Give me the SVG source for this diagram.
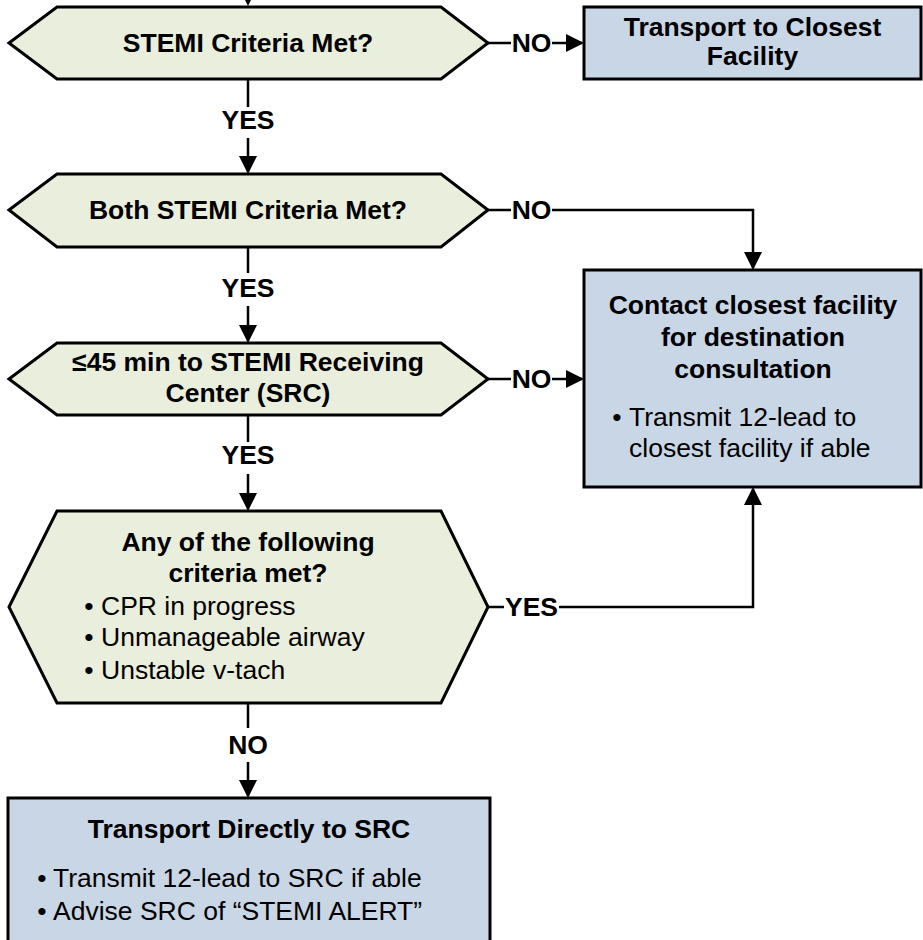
<svg xmlns="http://www.w3.org/2000/svg" width="923" height="940" viewBox="0 0 923 940">
<style>
.hex{fill:#EAEEDC;stroke:#000;stroke-width:3;stroke-linejoin:miter}
.box{fill:#C9D6E5;stroke:#000;stroke-width:3}
.b{font-family:"Liberation Sans",Arial,sans-serif;font-weight:bold;font-size:26.5px;fill:#000}
.r{font-family:"Liberation Sans",Arial,sans-serif;font-size:26.5px;fill:#000}
.c{text-anchor:middle}
.ln{fill:none;stroke:#000;stroke-width:2.5}
</style>
<defs>
<marker id="ah" markerUnits="userSpaceOnUse" markerWidth="18" markerHeight="18" refX="16" refY="9" orient="auto" viewBox="0 0 18 18">
<path d="M0,0 L18,9 L0,18 z" fill="#000"/>
</marker>
</defs>
<rect width="923" height="940" fill="#fff"/>
<g id="connectors">
<polygon points="239,-12 257,-12 248,6" fill="#000"/>
<line class="ln" x1="488" y1="43" x2="511" y2="43"/>
<line class="ln" x1="552" y1="43" x2="582" y2="43" marker-end="url(#ah)"/>
<text class="b c" x="531.5" y="52">NO</text>
<line class="ln" x1="248" y1="79" x2="248" y2="107"/>
<text class="b c" x="248" y="129">YES</text>
<line class="ln" x1="248" y1="138" x2="248" y2="172" marker-end="url(#ah)"/>
<line class="ln" x1="488" y1="210" x2="511" y2="210"/>
<polyline class="ln" points="552,210 753,210 753,268" marker-end="url(#ah)"/>
<text class="b c" x="531.5" y="219">NO</text>
<line class="ln" x1="248" y1="247" x2="248" y2="273"/>
<text class="b c" x="248" y="297">YES</text>
<line class="ln" x1="248" y1="306" x2="248" y2="341" marker-end="url(#ah)"/>
<line class="ln" x1="488" y1="379" x2="511" y2="379"/>
<line class="ln" x1="552" y1="379" x2="582" y2="379" marker-end="url(#ah)"/>
<text class="b c" x="531.5" y="388">NO</text>
<line class="ln" x1="248" y1="415" x2="248" y2="442"/>
<text class="b c" x="248" y="464">YES</text>
<line class="ln" x1="248" y1="474" x2="248" y2="509" marker-end="url(#ah)"/>
<line class="ln" x1="488" y1="607" x2="504" y2="607"/>
<polyline class="ln" points="559,607 753,607 753,489" marker-end="url(#ah)"/>
<text class="b c" x="531.5" y="616">YES</text>
<line class="ln" x1="248" y1="703" x2="248" y2="728"/>
<text class="b c" x="248" y="754">NO</text>
<line class="ln" x1="248" y1="762" x2="248" y2="796" marker-end="url(#ah)"/>
</g>
<g id="hex1">
<polygon class="hex" points="9,43 57,7 441,7 488,43 441,79 57,79"/>
<text class="b c" x="248" y="52">STEMI Criteria Met?</text>
</g>
<g id="box1">
<rect class="box" x="584" y="7" width="337" height="72"/>
<text class="b c" x="752.5" y="36">Transport to Closest</text>
<text class="b c" x="752.5" y="65">Facility</text>
</g>
<g id="hex2">
<polygon class="hex" points="9,210 57,174 441,174 488,210 441,247 57,247"/>
<text class="b c" x="248" y="219">Both STEMI Criteria Met?</text>
</g>
<g id="hex3">
<polygon class="hex" points="9,379 57,343 441,343 488,379 441,415 57,415"/>
<text class="b c" x="248" y="371">≤45 min to STEMI Receiving</text>
<text class="b c" x="248" y="402">Center (SRC)</text>
</g>
<g id="box2">
<rect class="box" x="584" y="270" width="337" height="217"/>
<text class="b c" x="753" y="314">Contact closest facility</text>
<text class="b c" x="753" y="346">for destination</text>
<text class="b c" x="753" y="378">consultation</text>
<text class="r c" x="617" y="426">•</text>
<text class="r" x="629" y="426">Transmit 12-lead to</text>
<text class="r" x="629" y="457">closest facility if able</text>
</g>
<g id="hex4">
<polygon class="hex" points="9,607 57,511 441,511 488,607 441,703 57,703"/>
<text class="b c" x="248" y="551">Any of the following</text>
<text class="b c" x="248" y="582">criteria met?</text>
<text class="r c" x="89" y="615">•</text>
<text class="r" x="101" y="615">CPR in progress</text>
<text class="r c" x="89" y="646">•</text>
<text class="r" x="101" y="646">Unmanageable airway</text>
<text class="r c" x="89" y="679">•</text>
<text class="r" x="101" y="679">Unstable v-tach</text>
</g>
<g id="box3">
<rect class="box" x="8" y="798" width="482" height="160"/>
<text class="b c" x="249" y="838">Transport Directly to SRC</text>
<text class="r c" x="42" y="887">•</text>
<text class="r" x="53" y="887">Transmit 12-lead to SRC if able</text>
<text class="r c" x="42" y="920">•</text>
<text class="r" x="53" y="920">Advise SRC of “STEMI ALERT”</text>
</g>
</svg>
